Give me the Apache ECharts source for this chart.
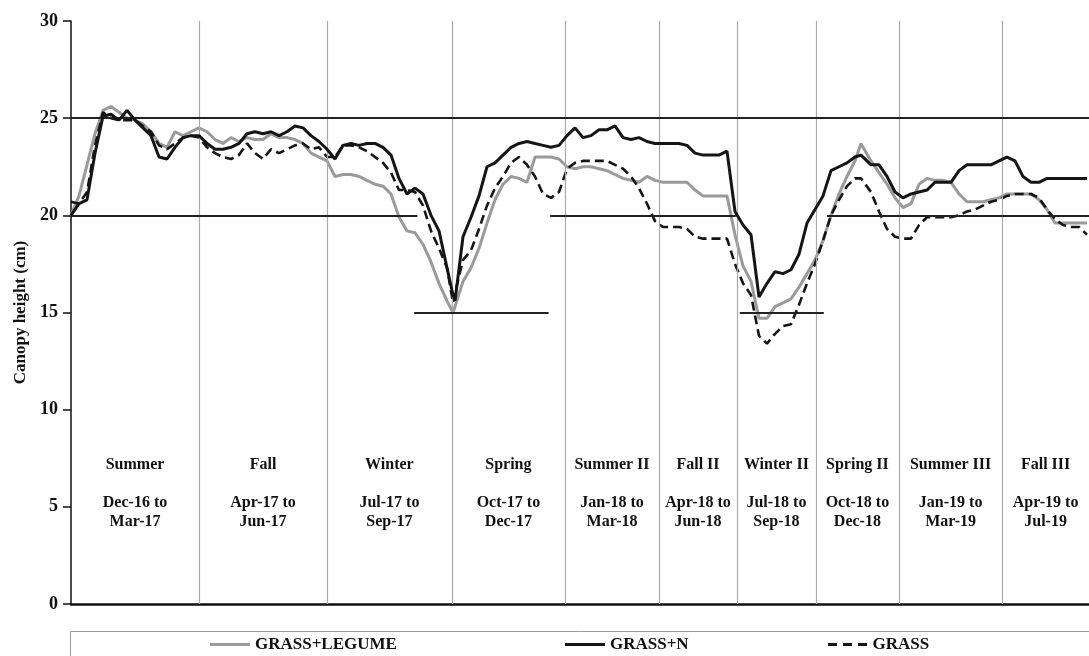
<!DOCTYPE html>
<html>
<head>
<meta charset="utf-8">
<script src="https://cdn.jsdelivr.net/npm/echarts@6/dist/echarts.min.js"></script>
<style>
html,body{margin:0;padding:0;background:#fff;}
#chart{width:1089px;height:656px;}
</style>
</head>
<body>
<div id="chart"></div>
<script>
// x sample positions (weeks from start of measurements)
const weeks = [];
for (let i = 0; i <= 127; i++) {
  weeks.push(i);
  if (i === 47) weeks.push(47.75);
  if (i === 98) weeks.push(98.75);
}

const grassLegume = [
  20.0,21.0,22.6,24.2,25.4,25.6,25.3,25.0,24.9,24.7,
  24.3,23.7,23.5,24.3,24.1,24.3,24.5,24.3,23.9,23.7,
  24.0,23.8,24.0,23.9,23.9,24.2,24.0,24.0,23.9,23.7,
  23.2,23.0,22.8,22.0,22.1,22.1,22.0,21.8,21.6,21.5,
  21.1,19.9,19.2,19.1,18.5,17.6,16.5,15.6,15.0,15.3,
  16.6,17.3,18.3,19.6,20.8,21.6,22.0,21.9,21.7,23.0,
  23.0,23.0,22.9,22.5,22.4,22.5,22.5,22.4,22.3,22.1,
  21.9,21.8,21.7,22.0,21.8,21.7,21.7,21.7,21.7,21.3,
  21.0,21.0,21.0,21.0,19.0,17.4,16.6,14.7,14.7,15.3,
  15.5,15.7,16.3,17.0,17.7,18.7,20.0,21.1,22.0,22.8,
  23.7,23.5,22.8,22.2,21.6,20.9,20.4,20.6,21.6,21.9,
  21.8,21.8,21.7,21.1,20.7,20.7,20.7,20.8,20.9,21.1,
  21.1,21.1,21.1,20.8,20.3,19.6,19.6,19.6,19.6,19.6
];

const grassN = [
  20.0,20.6,20.8,23.2,25.1,25.2,24.9,25.4,24.9,24.5,
  24.1,23.0,22.9,23.5,24.0,24.1,24.1,23.7,23.4,23.4,
  23.5,23.7,24.2,24.3,24.2,24.3,24.1,24.3,24.6,24.5,
  24.1,23.8,23.4,22.9,23.6,23.7,23.6,23.7,23.7,23.5,
  23.1,21.9,21.1,21.4,21.1,20.0,19.2,17.3,15.9,15.6,
  18.9,19.9,21.0,22.5,22.7,23.1,23.5,23.7,23.8,23.7,
  23.6,23.5,23.6,24.1,24.5,24.0,24.1,24.4,24.4,24.6,
  24.0,23.9,24.0,23.8,23.7,23.7,23.7,23.7,23.6,23.2,
  23.1,23.1,23.1,23.3,20.2,19.5,19.0,15.8,16.5,17.1,
  17.0,17.2,18.0,19.6,20.3,21.0,22.3,22.5,22.7,23.0,
  23.1,23.0,22.6,22.6,22.0,21.2,20.9,21.1,21.2,21.3,
  21.7,21.7,21.7,22.3,22.6,22.6,22.6,22.6,22.8,23.0,
  22.8,22.0,21.7,21.7,21.9,21.9,21.9,21.9,21.9,21.9
];

const grass = [
  20.7,20.6,21.2,23.6,25.3,25.0,24.9,24.9,24.9,24.6,
  24.3,23.6,23.4,23.7,24.0,24.1,24.0,23.5,23.2,23.0,
  22.9,23.1,23.7,23.2,22.9,23.4,23.2,23.4,23.6,23.7,
  23.4,23.5,23.0,23.0,23.6,23.6,23.5,23.3,23.0,22.7,
  22.2,21.3,21.3,21.2,20.5,19.2,18.3,17.3,15.5,16.0,
  17.7,18.2,19.3,20.5,21.4,22.0,22.7,23.0,22.6,22.0,
  21.1,20.9,21.2,22.4,22.7,22.8,22.8,22.8,22.8,22.6,
  22.4,22.0,21.4,20.6,19.7,19.4,19.4,19.4,19.3,18.9,
  18.8,18.8,18.8,18.8,17.5,16.5,15.9,13.8,13.4,13.9,
  14.3,14.4,15.4,16.5,17.5,18.7,20.0,20.8,21.5,21.9,
  21.9,21.8,21.2,20.2,19.3,18.9,18.8,18.8,19.5,19.9,
  19.9,19.9,19.9,20.0,20.2,20.3,20.5,20.7,20.8,21.0,
  21.1,21.1,21.1,20.9,20.3,19.8,19.5,19.4,19.4,19.0
];

// season boundaries (weeks) incl. start and end of axis
const seasonBounds = [0, 16, 32, 47.6, 61.75, 73.5, 83.25, 93.1, 103.5, 116.4, 127.25];
const seasonNames = ['Summer','Fall','Winter','Spring','Summer II','Fall II','Winter II','Spring II','Summer III','Fall III'];
const seasonDates = ['Dec-16 to\nMar-17','Apr-17 to\nJun-17','Jul-17 to\nSep-17','Oct-17 to\nDec-17',
  'Jan-18 to\nMar-18','Apr-18 to\nJun-18','Jul-18 to\nSep-18','Oct-18 to\nDec-18','Jan-19 to\nMar-19','Apr-19 to\nJul-19'];
const seasonLabelY = 5.7;

// reference lines: [fromWeek, toWeek, height]
const refLines = [
  [0, 127.25, 25],
  [0, 43.3, 20],
  [42.9, 59.7, 15],
  [59.9, 83.1, 20],
  [83.6, 94.1, 15],
  [94.5, 127.25, 20]
];

const yTicks = [0, 30, 5]; // min, max, interval

const FONT = 'Liberation Serif';
const chart = echarts.init(document.getElementById('chart'));

const pair = a => weeks.map((w, i) => [w, a[i]]);

const SOLID_ICON = 'path://M0,0H40V3H0Z';
const DASH_ICON = 'path://M0,0H9V3H0Z M15,0H24V3H15Z M30,0H39V3H30Z';

const option = {
  animation: false,
  backgroundColor: '#fff',
  grid: { left: 71, right: 0, top: 21, bottom: 52 },
  xAxis: {
    type: 'value', min: seasonBounds[0], max: seasonBounds[seasonBounds.length - 1],
    axisLine: { show: true, onZero: false, lineStyle: { color: '#111', width: 2.5 } },
    axisTick: { show: false }, axisLabel: { show: false }, splitLine: { show: false }
  },
  yAxis: {
    type: 'value', min: yTicks[0], max: yTicks[1], interval: yTicks[2],
    name: 'Canopy height (cm)', nameLocation: 'middle', nameGap: 37,
    nameTextStyle: { fontFamily: FONT, fontWeight: 'bold', fontSize: 17, color: '#111' },
    axisLine: { show: true, lineStyle: { color: '#111', width: 1.5 } },
    axisTick: { show: true, length: 8, lineStyle: { color: '#111', width: 1.5 } },
    axisLabel: { fontFamily: FONT, fontWeight: 'bold', fontSize: 18, color: '#111', margin: 13 },
    splitLine: { show: false }
  },
  legend: [
    { data: [{ name: 'GRASS+LEGUME', icon: SOLID_ICON }], left: 210, top: 636 },
    { data: [{ name: 'GRASS+N', icon: SOLID_ICON }], left: 565, top: 636 },
    { data: [{ name: 'GRASS', icon: DASH_ICON }], left: 828, top: 636 }
  ].map(l => Object.assign(l, {
    padding: 0, itemWidth: 40, itemHeight: 3, selectedMode: false,
    textStyle: { fontFamily: FONT, fontWeight: 'bold', fontSize: 17, color: '#111' }
  })),
  graphic: [{
    type: 'rect', left: 68, top: 629, silent: true,
    shape: { width: 1040, height: 40 },
    style: { fill: 'none', stroke: '#999', lineWidth: 1 }
  }],
  series: [
    {
      name: 'refs', type: 'line', data: [], silent: true,
      markLine: {
        silent: true, symbol: ['none', 'none'], label: { show: false },
        data: [
          ...seasonBounds.slice(1, -1).map(b => ({ xAxis: b, lineStyle: { color: '#aaa', width: 1.2, type: 'solid' } })),
          ...refLines.map(r => [
            { coord: [r[0], r[2]], lineStyle: { color: '#222', width: 2, type: 'solid' } },
            { coord: [r[1], r[2]] }
          ])
        ]
      },
      markPoint: {
        silent: true, symbol: 'circle', symbolSize: 0,
        label: {
          show: true, position: 'inside', formatter: p => p.name,
          fontFamily: FONT, fontWeight: 'bold', fontSize: 16, lineHeight: 19,
          color: '#111', align: 'center', verticalAlign: 'middle'
        },
        data: seasonNames.map((n, i) => ({
          name: n + '\n\n' + seasonDates[i],
          coord: [(seasonBounds[i] + seasonBounds[i + 1]) / 2, seasonLabelY]
        }))
      }
    },
    {
      name: 'GRASS+LEGUME', type: 'line', data: pair(grassLegume), showSymbol: false, symbol: 'none',
      lineStyle: { color: '#9a9a9a', width: 3 }, itemStyle: { color: '#9a9a9a' }, z: 3
    },
    {
      name: 'GRASS', type: 'line', data: pair(grass), showSymbol: false, symbol: 'none',
      lineStyle: { color: '#151515', width: 2.6, type: [9, 5] }, itemStyle: { color: '#151515' }, z: 4
    },
    {
      name: 'GRASS+N', type: 'line', data: pair(grassN), showSymbol: false, symbol: 'none',
      lineStyle: { color: '#151515', width: 3 }, itemStyle: { color: '#151515' }, z: 5
    }
  ]
};
chart.setOption(option);
</script>
</body>
</html>
